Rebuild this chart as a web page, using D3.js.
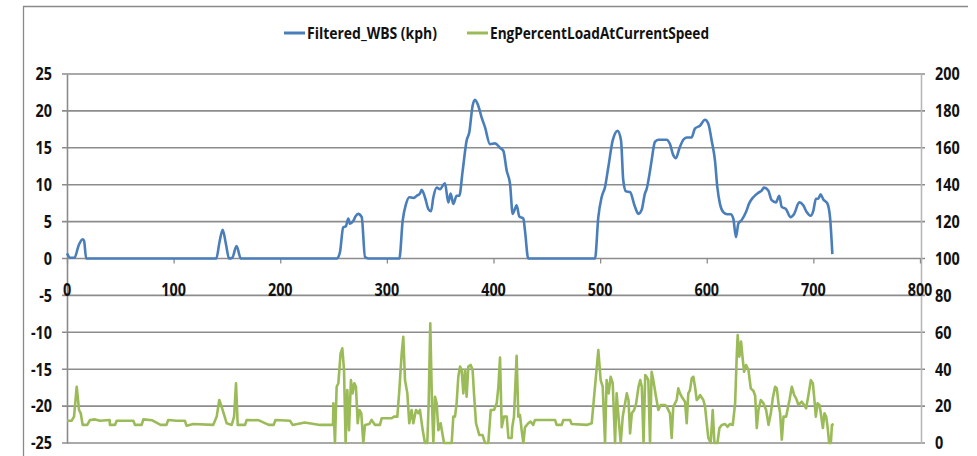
<!DOCTYPE html>
<html>
<head>
<meta charset="utf-8">
<script src="https://cdn.jsdelivr.net/npm/d3@7"></script>
<style>
  html, body { margin: 0; padding: 0; background: #ffffff; }
  svg { display: block; }
  text { font-family: "Open Sans", "Liberation Sans", sans-serif; font-weight: bold; fill: #111; }
</style>
</head>
<body>
<svg id="chart" width="977" height="456"></svg>
<script>
// Wheel-based speed (kph), left axis
const speedTime = [0,3,7,11,14.7,16,18,140,143,146,149,152,155,159,163,253,256,259,261.6,263.8,265.4,268.5,271,273.2,276.4,279.5,282.6,311.7,314.8,318,321,324.8,328,331,332.6,335.7,338.9,341.4,343.6,346.7,349.8,354.5,357.6,359.8,362.3,365.4,367.9,371.1,374.8,377.3,380.4,382.6,385.7,388.9,392,396.7,401.4,406.1,409.2,412.4,415.5,418,421.7,424.2,428,429.5,432.6,495.2,498.3,501.4,504.6,507.7,511.8,516.4,519.6,521.7,524.2,528,532.7,535.8,539,542,543.6,546.8,548.3,551.4,554.6,562.4,565.5,568.6,571.1,574.3,578,581.2,585.8,588.9,593.6,598.3,601.4,604.6,607.7,609.9,612.4,615.5,619.3,622.4,624.9,627.4,629.6,632.7,636.8,639.9,643.6,648.3,651.5,653.7,657.7,660.9,664.9,668,670.3,674.3,678.7,681.8,686.8,690.5,693.7,697.5,700,702.4,704.6,706.8,709.3,713,715.6,717.8];
const speedValues = [0.7,0.1,0.1,1.8,2.6,2.4,0,0,2.2,3.9,2.0,0,0.1,1.7,0,0,0.85,4.2,4.4,5.4,4.7,5.1,5.8,6.05,5.6,0.2,0,0,5.1,7.4,8.3,8.2,8.5,8.8,9.3,8.3,6.7,6.4,8.3,9.6,9.4,10.2,7.6,8.8,7.4,8.5,8.5,11.9,16.0,17.1,20.7,21.5,20.7,19.1,17.8,15.5,15.6,15.0,14.6,11.9,10.1,6.05,7.2,5.7,5.4,3.8,0,0,5.6,8.3,9.7,12.4,16,17.3,16,10.6,9.1,9.0,7.0,6.05,6.6,8.8,9.4,11.9,13.3,15.8,16.1,16.1,15.5,14.0,13.6,14.9,16.1,16.4,16.4,17.6,18.0,18.8,18.3,16.0,13.3,9.7,7.4,6.3,6.0,6.0,5.4,2.9,4.7,5.2,6.3,7.5,8.3,8.9,9.2,9.6,9.2,7.9,7.6,8.5,7.0,6.7,5.6,6.0,7.6,7.2,6.3,5.8,6.5,8.1,8.1,8.7,8.0,7.5,5.6,0.6];

// Engine percent load, right axis
const loadTime = [0,4.4,6.6,9.1,11.3,12.9,14.7,19,21.6,26.3,31,40,40.3,45,46.6,62.2,63.8,70,71.6,80,87.8,93.3,94.9,102.7,110.5,112.1,118.4,137.1,140.4,142.8,145,149.8,154.5,156.7,158.5,160.1,167,168.5,180,189.2,193.9,195.5,209.1,211.6,223,237.2,249.5,249.8,251.3,252.9,254.5,256.6,258.2,259.8,261.3,262.9,264.5,266.3,267.9,269.5,271,272.6,274.2,276,277.9,279.5,283.6,285.7,288.9,293.5,295.1,304.5,306.7,309.8,311.7,313.9,315.4,317,319.2,321,323.2,324.8,327.3,329.5,331,333.6,335.7,337.9,339.2,340.7,342.3,343.6,345.1,346.7,348.3,350.4,353.6,360.8,362.3,363.9,365.4,367,368.6,370.1,371.7,373.3,374.8,376.4,378.6,380.4,381.7,383.6,386.7,389.8,392,395.1,397.4,400.5,403,404.6,406.1,407.7,409.8,412.4,414,417,417.6,419.2,421.7,423.3,424.8,426.4,428,429.5,432.6,434.8,437.3,438.9,457.7,459.2,464,465.5,471.8,473.3,487.4,492.1,495.2,498.3,500.5,502.4,504.6,506.1,508,509.9,511.8,514,515.5,517.7,519.3,521.2,523.4,525,526.6,528.1,529.7,531.9,533.8,536,537.6,539.1,540.7,542.3,543.6,545.2,546.8,548.3,549.9,552.4,554.6,556.8,560.9,562.4,565.5,567.1,568.6,570.2,571.8,573.3,574.9,576.5,579.6,581.2,582.7,584.3,585.9,587.4,589,590.6,592.2,593.7,596.8,598.4,600,601.5,603.7,605.6,607.2,610,611.9,614.1,617.2,619.4,621.9,624.4,626.6,628.1,629,630.6,632.2,633.8,635,636.9,639.1,641.3,643.8,645.4,646.9,648.5,650.7,653.2,655.7,657.9,660.1,661.9,664.1,665.7,667.3,668.8,670.4,672,674.5,675.7,677.6,679.8,682,683.8,686,689.1,691.3,693.2,695.4,697.6,699.5,700.7,702.3,703.9,705.7,707,708.9,710.4,712,713.3,714.8,716.4,717.4,719];
const loadValues = [12.1,12.1,14.3,30.5,17.9,16.1,9.8,9.8,12.5,12.8,12.1,12.5,9.8,9.8,12.1,12.1,9.8,9.8,12.8,12.3,9.8,9.8,12.5,12.1,12.1,9.4,10.3,9.8,14.3,23.3,19.7,10.7,9.8,14.3,32.4,9.8,9.8,12.5,12.3,9.8,9.8,12.5,12.1,9.8,11.1,9.8,9.8,21.5,0,30.5,32.4,48.6,51.3,39.6,0,28.7,7.0,34.1,26.9,32.4,30.5,10.7,17.9,16.1,0,9.8,10.3,12.5,9.8,9.8,13.4,13.4,14.3,14.3,28.7,48.6,57.6,34.1,26.9,10.7,17.9,10.7,17.9,16.1,17.9,7,0,0,21.5,64.9,21.5,0,25.1,21.5,7,10.7,0,0,14.3,14.3,21.5,35.9,41.4,39.6,26.9,39.6,25.1,41.4,42.3,39.6,26.9,10.7,4.3,4.3,0,0,17.9,17.9,21.5,30.5,46.3,8.5,14.3,14.3,2.7,2.7,8.5,14.3,47.2,14.3,15.2,7,0,8.5,10.7,11.6,9.8,12.5,12.5,9.8,9.8,12.5,12.5,10.3,9.8,10.7,30.5,50.4,34.1,30.5,0,34.1,26.9,35.9,32.4,0,26.9,10.7,0,14.3,21.5,26.9,23.3,5.2,16.1,17.9,21.5,30.5,34.1,30.5,0,36.8,35.9,34.1,0,38.6,34.1,25.1,17.9,20.6,20.6,19.7,16.1,2.7,19.7,21.5,23.3,29.6,26.9,25.1,22.4,10.7,26.9,28.7,35,35.9,30.5,23.3,24.2,26,23.3,19.7,10.7,2.7,0,17.9,0,0,8.1,9.8,10.3,8.8,10.3,9.8,21.5,46.8,58.5,46.8,55,45,38.6,42.3,39.6,29.6,28.2,25.6,8.1,17.9,23.3,21.5,17.9,9.8,16.1,24.2,30.5,29.6,21.5,16.1,1.8,14.3,14.3,17.9,23.3,30.5,26,24.2,20.6,22.4,20.6,18.8,26,34.1,32.4,25.1,14.3,21.5,20.6,16.1,8.1,16.1,14.3,8.8,0,0,9.8,10.3];

const xTicks = [0, 100, 200, 300, 400, 500, 600, 700, 800];
const leftTicks = [-25, -20, -15, -10, -5, 0, 5, 10, 15, 20, 25];
const rightTicks = [0, 20, 40, 60, 80, 100, 120, 140, 160, 180, 200];
const seriesNames = ["Filtered_WBS (kph)", "EngPercentLoadAtCurrentSpeed"];
const seriesColors = ["#4a7ebb", "#9bbb59"];

const svg = d3.select("#chart");
const plot = { left: 67, right: 920, top: 74, bottom: 443 };
const gridColor = "#8c8c8c";
const squeeze = 0.8;        // narrow bold lettering for tick labels
const fmt = d => String(d);  // plain hyphen minus sign

const x = d3.scaleLinear().domain([0, 800]).range([plot.left, plot.right]);
const yLeft = d3.scaleLinear().domain([-25, 25]).range([plot.bottom, plot.top]);
const yRight = d3.scaleLinear().domain([0, 200]).range([plot.bottom, plot.top]);

// chart area frame (top and left edges)
svg.append("path")
  .attr("d", "M23.5,460 L23.5,6.5 L968,6.5")
  .attr("fill", "none").attr("stroke", "#8a8a8a").attr("stroke-width", 1.3);

// horizontal gridlines
svg.append("g").selectAll("line").data(leftTicks).join("line")
  .attr("x1", plot.left - 5).attr("x2", plot.right + 5)
  .attr("y1", d => yLeft(d)).attr("y2", d => yLeft(d))
  .attr("stroke", gridColor).attr("stroke-width", 1.6);

// left axis line
const leftAxis = svg.append("g").attr("transform", `translate(${plot.left},0)`)
  .call(d3.axisLeft(yLeft).tickValues(leftTicks).tickSize(0).tickFormat(""));
leftAxis.select(".domain").attr("stroke", gridColor).attr("stroke-width", 1.6);

// right axis line
const rightAxis = svg.append("g").attr("transform", `translate(${plot.right + 1},0)`)
  .call(d3.axisRight(yRight).tickValues(rightTicks).tickSize(0).tickFormat(""));
rightAxis.select(".domain").attr("stroke", "#b8b8b8").attr("stroke-width", 1.6);

// x axis crossing at zero
const xAxis = svg.append("g").attr("transform", `translate(0,${yLeft(0)})`)
  .call(d3.axisBottom(x).tickValues(xTicks).tickSize(5).tickFormat(""));
xAxis.select(".domain").remove();
xAxis.selectAll(".tick line").attr("stroke", gridColor).attr("stroke-width", 1.3);

// tick labels
const labels = svg.append("g").attr("font-size", 18);
labels.selectAll("text.yl").data(leftTicks).join("text").attr("class", "yl")
  .attr("text-anchor", "end").attr("dy", "0.35em")
  .attr("transform", d => `translate(52,${yLeft(d)}) scale(${squeeze},1)`)
  .text(fmt);
labels.selectAll("text.yr").data(rightTicks).join("text").attr("class", "yr")
  .attr("text-anchor", "start").attr("dy", "0.35em")
  .attr("transform", d => `translate(935,${yRight(d)}) scale(${squeeze},1)`)
  .text(fmt);
labels.selectAll("text.xl").data(xTicks).join("text").attr("class", "xl")
  .attr("text-anchor", "middle")
  .attr("transform", d => `translate(${x(d)},${yLeft(0) + 37}) scale(${squeeze},1)`)
  .text(fmt);

// series lines
const speedLine = d3.line().x(d => x(d[0])).y(d => yLeft(d[1])).curve(d3.curveMonotoneX);
const loadLine = d3.line().x(d => x(d[0])).y(d => yRight(d[1]));

svg.append("path")
  .datum(d3.zip(loadTime, loadValues))
  .attr("d", loadLine)
  .attr("fill", "none").attr("stroke", seriesColors[1]).attr("stroke-width", 2.6)
  .attr("stroke-linejoin", "round");

svg.append("path")
  .datum(d3.zip(speedTime, speedValues))
  .attr("d", speedLine)
  .attr("fill", "none").attr("stroke", seriesColors[0]).attr("stroke-width", 2.6)
  .attr("stroke-linejoin", "round");

// legend
const legendItems = [
  { name: seriesNames[0], color: seriesColors[0], x: 284, w: 130 },
  { name: seriesNames[1], color: seriesColors[1], x: 467, w: 219 }
];
const lg = svg.append("g").selectAll("g").data(legendItems).join("g")
  .attr("transform", d => `translate(${d.x},33)`);
lg.append("line").attr("x1", 0).attr("x2", 21).attr("y1", 0).attr("y2", 0)
  .attr("stroke", d => d.color).attr("stroke-width", 3);
lg.append("text").attr("x", 23).attr("y", 0).attr("dy", "0.35em")
  .attr("font-size", 16)
  .attr("textLength", d => d.w).attr("lengthAdjust", "spacingAndGlyphs")
  .text(d => d.name);
</script>
</body>
</html>
